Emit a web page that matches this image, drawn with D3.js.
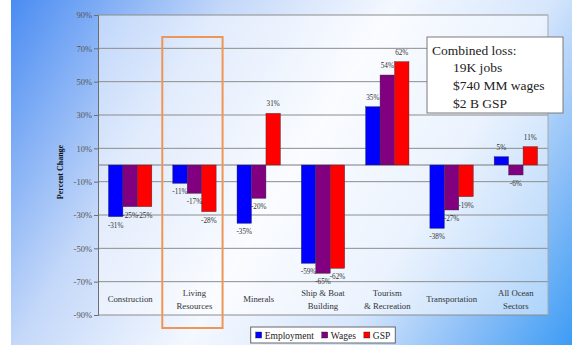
<!DOCTYPE html>
<html>
<head>
<meta charset="utf-8">
<script src="https://cdn.jsdelivr.net/npm/d3@7/dist/d3.min.js"></script>
<style>
  html, body { margin: 0; padding: 0; background: #fff; }
  svg { display: block; }
  svg text { font-family: "Liberation Serif", "Times New Roman", Times, "DejaVu Serif", serif; }
</style>
</head>
<body>
<script>
// Percent change by ocean-economy sector
const categories = ["Construction", "Living\nResources", "Minerals", "Ship & Boat\nBuilding",
                    "Tourism\n& Recreation", "Transportation", "All Ocean\nSectors"];
const seriesNames = ["Employment", "Wages", "GSP"];
const employment = [-31, -11, -35, -59, 35, -38, 5];
const wages      = [-25, -17, -20, -65, 54, -27, -6];
const gsp        = [-25, -28, 31, -62, 62, -19, 11];
const yTicks = [90, 70, 50, 30, 10, -10, -30, -50, -70, -90];
const noteLines = ["Combined loss:", "19K jobs", "$740 MM wages", "$2 B GSP"];
const highlighted = "Living\nResources";

const seriesValues = [employment, wages, gsp];
const colors = ["#0000ff", "#800080", "#ff0000"];
const W = 572, H = 345;
const serif = "\"Liberation Serif\", \"Times New Roman\", Times, serif";

const svg = d3.select("body").append("svg").attr("width", W).attr("height", H);
const defs = svg.append("defs");

// slide background: diagonal blue-white-blue wash
const bg = defs.append("linearGradient").attr("id", "bg")
  .attr("gradientUnits", "userSpaceOnUse")
  .attr("x1", 11).attr("y1", 0).attr("x2", W).attr("y2", H);
[[0, "#4a8cf2"], [0.28, "#c4d8f9"], [0.5, "#f4f8ff"], [0.7, "#d6e6fc"], [0.86, "#88bdf7"], [1, "#3d9cf5"]]
  .forEach(([o, c]) => bg.append("stop").attr("offset", o).attr("stop-color", c));
svg.append("rect").attr("width", W).attr("height", H).attr("fill", "url(#bg)");
svg.append("rect").attr("width", 11).attr("height", H).attr("fill", "#ffffff");

const plot = { left: 98, right: 548, top: 15, bottom: 315 };

const x = d3.scaleBand().domain(categories).range([plot.left, plot.right]).padding(0);
const y = d3.scaleLinear().domain([-90, 90]).range([plot.bottom, plot.top]);
const barW = x.bandwidth() * 0.225;
const groupOffset = (x.bandwidth() - barW * seriesNames.length) / 2;

// plot area
svg.append("rect")
  .attr("x", plot.left).attr("y", plot.top)
  .attr("width", plot.right - plot.left).attr("height", plot.bottom - plot.top)
  .attr("fill", "#ffffff").attr("fill-opacity", 0.5);

// gridlines
svg.append("g").selectAll("line").data(yTicks).join("line")
  .attr("x1", plot.left).attr("x2", plot.right)
  .attr("y1", d => y(d)).attr("y2", d => y(d))
  .attr("stroke", "#8c8c8c").attr("stroke-width", 1);
svg.append("line")
  .attr("x1", plot.right).attr("x2", plot.right)
  .attr("y1", plot.top).attr("y2", plot.bottom)
  .attr("stroke", "#a8a8a8");

// y axis
const yAxis = svg.append("g").attr("transform", `translate(${plot.left},0)`)
  .call(d3.axisLeft(y).tickValues(yTicks).tickSize(4).tickPadding(2).tickFormat(d => d + "%"));
yAxis.attr("font-family", null);
yAxis.select(".domain").attr("stroke", "#6e6e6e");
yAxis.selectAll(".tick line").attr("stroke", "#6e6e6e");
yAxis.selectAll(".tick text").style("font-family", serif).attr("font-size", 8.5).attr("fill", "#555");

svg.append("text")
  .attr("transform", "translate(60,172) rotate(-90)")
  .attr("text-anchor", "middle").attr("dominant-baseline", "central")
  .style("font-family", serif).attr("font-weight", "bold").attr("font-size", 8)
  .attr("fill", "#111").text("Percent Change");

// zero line
svg.append("line")
  .attr("x1", plot.left).attr("x2", plot.right)
  .attr("y1", y(0)).attr("y2", y(0))
  .attr("stroke", "#7a7a7a");

// bars and value labels
const rows = [];
categories.forEach((c, i) => seriesValues.forEach((vals, s) => rows.push({ c, s, v: vals[i] })));

svg.append("g").selectAll("rect").data(rows).join("rect")
  .attr("x", d => x(d.c) + groupOffset + d.s * barW)
  .attr("y", d => y(Math.max(0, d.v)))
  .attr("width", barW)
  .attr("height", d => Math.abs(y(d.v) - y(0)))
  .attr("fill", d => colors[d.s])
  .attr("stroke", "#333").attr("stroke-width", 0.4);

svg.append("g").selectAll("text").data(rows).join("text")
  .attr("x", d => x(d.c) + groupOffset + (d.s + 0.5) * barW)
  .attr("y", d => y(d.v) + (d.v < 0 ? 9 : -9))
  .attr("text-anchor", "middle").attr("dominant-baseline", "central")
  .style("font-family", serif).attr("font-size", 7.2).attr("fill", "#333")
  .text(d => d.v + "%");

// category labels in the lowest band
const catG = svg.append("g");
categories.forEach(c => {
  const lines = c.split("\n");
  const cy = (y(-70) + y(-90)) / 2 + 1;
  const t = catG.append("text")
    .attr("text-anchor", "middle")
    .style("font-family", serif).attr("font-size", 8.7).attr("fill", "#333");
  lines.forEach((ln, k) => {
    t.append("tspan")
      .attr("x", x(c) + x.bandwidth() / 2)
      .attr("y", cy + (k - (lines.length - 1) / 2) * 13)
      .attr("dominant-baseline", "central")
      .text(ln);
  });
});

// highlight frame around one sector
svg.append("rect")
  .attr("x", x(highlighted)).attr("y", 37)
  .attr("width", x.bandwidth() - 4).attr("height", 291)
  .attr("fill", "none").attr("stroke", "#ee9655").attr("stroke-width", 2);

// note box
const note = svg.append("g");
note.append("rect")
  .attr("x", 427).attr("y", 37).attr("width", 136).attr("height", 76)
  .attr("fill", "#ffffff").attr("stroke", "#7a7a7a").attr("stroke-width", 1);
noteLines.forEach((ln, k) => {
  note.append("text")
    .attr("x", k === 0 ? 432 : 453).attr("y", 50 + k * 17.8)
    .attr("dominant-baseline", "central")
    .style("font-family", serif).attr("font-size", 13.5).attr("fill", "#222")
    .text(ln);
});

// legend
const leg = svg.append("g");
const legBox = leg.append("rect").attr("y", 327).attr("height", 16)
  .attr("fill", "#ffffff").attr("stroke", "#666").attr("stroke-width", 1);
const items = [];
seriesNames.forEach((name, s) => {
  const sq = leg.append("rect").attr("y", 332).attr("width", 6).attr("height", 6)
    .attr("fill", colors[s]).attr("stroke", "#222").attr("stroke-width", 0.4);
  const tx = leg.append("text").attr("y", 335.5).attr("dominant-baseline", "central")
    .style("font-family", serif).attr("font-size", 9.5).attr("fill", "#222").text(name);
  items.push({ sq, tx, w: tx.node().getComputedTextLength() });
});
const pad = 5, gapSq = 3, gapItem = 8;
const total = pad * 2 + d3.sum(items, d => 6 + gapSq + d.w) + gapItem * (items.length - 1);
const lx0 = (plot.left + plot.right) / 2 - total / 2;
legBox.attr("x", lx0).attr("width", total);
let cx = lx0 + pad;
items.forEach(it => {
  it.sq.attr("x", cx);
  it.tx.attr("x", cx + 6 + gapSq);
  cx += 6 + gapSq + it.w + gapItem;
});
</script>
</body>
</html>
